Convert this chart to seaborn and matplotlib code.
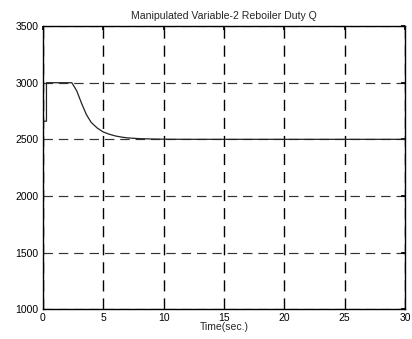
import matplotlib
matplotlib.use("Agg")
import matplotlib.pyplot as plt
import seaborn as sns
import pandas as pd

# Reboiler duty response (manipulated variable 2)
time_s = [0.0, 0.0, 0.3, 0.3, 1.0, 2.0, 2.4, 2.8, 3.2, 3.6, 4.0, 4.5, 5.0, 5.5, 6.0,
          6.5, 7.0, 8.0, 9.0, 10.0, 12.0, 15.0, 20.0, 25.0, 30.0]
duty_q = [1000, 2660, 2660, 3000, 3000, 3000, 3000, 2930, 2820, 2720, 2650, 2600, 2565,
          2545, 2530, 2520, 2513, 2506, 2503, 2501, 2500, 2500, 2500, 2500, 2500]

df = pd.DataFrame({"Time(sec.)": time_s, "Q": duty_q})

sns.set_theme(style="white")
plt.rcParams["font.family"] = ["Liberation Sans", "DejaVu Sans"]

fig = plt.figure(figsize=(4.12, 3.39), dpi=100)
ax = fig.add_axes([0.104, 0.088, 0.879, 0.835])

sns.lineplot(data=df, x="Time(sec.)", y="Q", ax=ax, color="#222222",
             linewidth=0.9, sort=False, estimator=None)

ax.set_xlim(0, 30)
ax.set_ylim(1000, 3500)
ax.set_xticks([0, 5, 10, 15, 20, 25, 30])
ax.set_yticks([1000, 1500, 2000, 2500, 3000, 3500])
ax.xaxis.grid(True, color="black", linestyle=(0, (8, 5)), linewidth=1.0)
ax.yaxis.grid(True, color="#333333", linestyle=(0, (8, 5)), linewidth=0.85)
for s in ax.spines.values():
    s.set_color("black")
    s.set_linewidth(1.0)
ax.tick_params(axis="both", labelsize=7.5, colors="black", direction="in",
               length=3, top=True, right=True, pad=3)
ax.set_xlabel("Time(sec.)", fontsize=7.5, labelpad=-1)
ax.set_ylabel("")
ax.set_title("Manipulated Variable-2 Reboiler Duty Q", fontsize=7.6, pad=5)

fig.savefig("out.png", dpi=100, facecolor="white")
